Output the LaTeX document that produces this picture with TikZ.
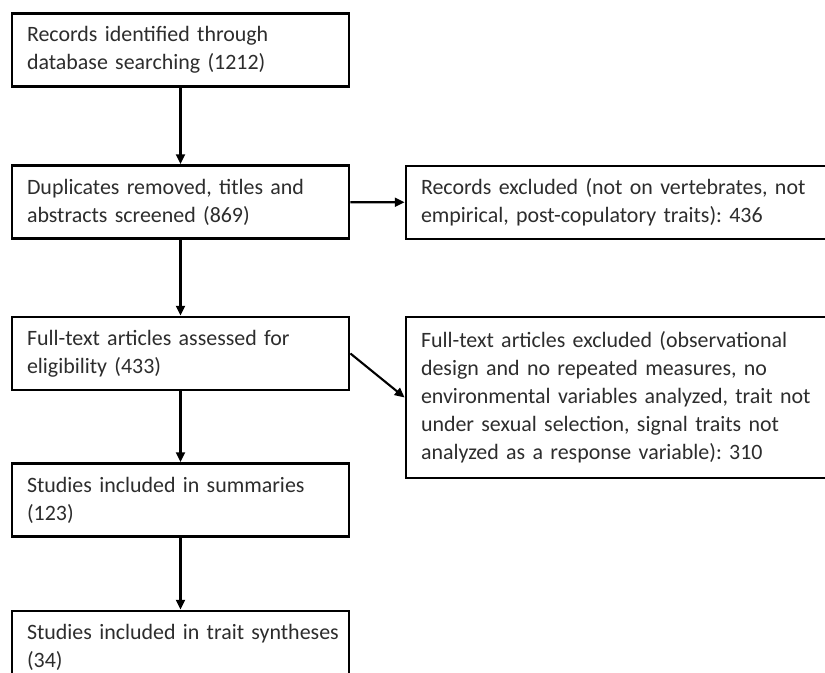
\documentclass[tikz,border=0pt]{standalone}
\usepackage{fontspec}
\setmainfont{Carlito}
\usetikzlibrary{arrows.meta}
\definecolor{texto}{RGB}{45,45,45}
\hyphenpenalty=10000
\exhyphenpenalty=10000
\frenchspacing

\begin{document}
\begin{tikzpicture}[
    etapa/.style={
        draw,
        line width=2pt,
        align=left,
        text=texto,
        font=\fontsize{15.6}{20}\selectfont,
        inner xsep=0.375cm,
        inner ysep=0pt,
        text width=7.675cm,
        minimum height=1.825cm
    },
    exclusao/.style={
        etapa,
        text width=9.9cm
    },
    seta/.style={
        -{Triangle[length=7pt,width=6.4pt]},
        line width=1.5pt
    }
]

\clip (0,0) rectangle (20.625,-16.825);
\fill[white] (0,0) rectangle (20.625,-16.825);

\node[etapa] (records) at (4.5125,-1.25)
{Records identified through\\
database searching (1212)};

\node[etapa] (screened) at (4.5125,-5.05)
{Duplicates removed, titles and\\
abstracts screened (869)};

\node[exclusao] (excluded) at (15.475,-5.0625)
{Records excluded (not on vertebrates, not\\
empirical, post-copulatory traits): 436};

\node[etapa] (fulltext) at (4.5125,-8.8375)
{Full-text articles assessed for\\
eligibility (433)};

\node[exclusao, minimum height=4.025cm] (ftexcluded) at (15.475,-9.9375)
{Full-text articles excluded (observational\\
design and no repeated measures, no\\
environmental variables analyzed, trait not\\
under sexual selection, signal traits not\\
analyzed as a response variable): 310};

\node[etapa] (summaries) at (4.5125,-12.5)
{Studies included in summaries\\
(123)};

\node[etapa] (syntheses) at (4.5125,-16.1875)
{\mbox{Studies included in trait syntheses}\\
(34)};

\draw[seta] (records) -- (screened);
\draw[seta] (screened) -- (excluded);
\draw[seta] (screened) -- (fulltext);
\draw[seta] (fulltext.east) -- (ftexcluded.west);
\draw[seta] (fulltext) -- (summaries);
\draw[seta] (summaries) -- (syntheses);

\end{tikzpicture}
\end{document}
